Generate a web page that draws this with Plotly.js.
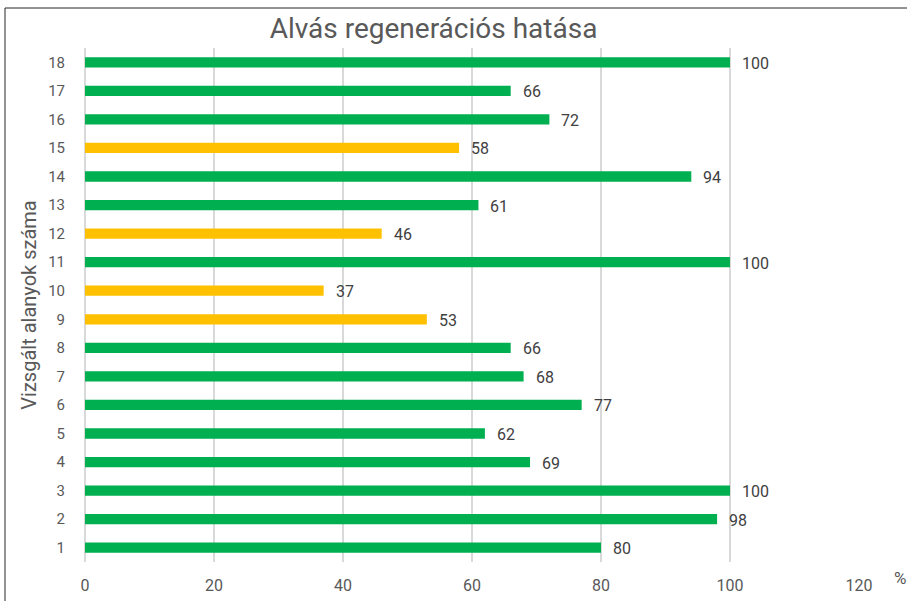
<!DOCTYPE html>
<html>
<head>
<meta charset="utf-8">
<script src="https://cdn.plot.ly/plotly-3.0.1.min.js"></script>
<style>
  html, body { margin: 0; padding: 0; background: #fff; }
  #chart { width: 907px; height: 601px; }
</style>
</head>
<body>
<div id="chart"></div>
<script>
// subjects 1..18 and their regeneration percentage
const subjects = ["1", "2", "3", "4", "5", "6", "7", "8", "9", "10", "11", "12", "13", "14", "15", "16", "17", "18"];
const values = [80, 98, 100, 69, 62, 77, 68, 66, 53, 37, 100, 46, 61, 94, 58, 72, 66, 100];
const xTicks = [0, 20, 40, 60, 80, 100, 120];

const GREEN = "#00B050";
const YELLOW = "#FFC000";
const FONT = "Roboto, sans-serif";

// below 60% shown in yellow
const colors = values.map(v => (v < 60 ? YELLOW : GREEN));

const trace = {
  type: "bar",
  orientation: "h",
  y: subjects,
  x: values,
  width: 0.36,
  marker: { color: colors },
  hoverinfo: "x+y",
  cliponaxis: false,
};

// value labels to the right of each bar (y given as category index)
const labels = values.map((v, i) => ({
  x: v,
  y: i,
  xref: "x",
  yref: "y",
  text: String(v),
  showarrow: false,
  xanchor: "left",
  xshift: 10,
  yshift: -1,
  font: { family: FONT, size: 16, color: "#404040" },
}));

const W = 774; // plot width in px
const H = 514; // plot height in px
const L = 85, T = 48;

const layout = {
  width: 907,
  height: 601,
  margin: { l: L, r: 907 - L - W, t: T, b: 601 - T - H },
  paper_bgcolor: "#fff",
  plot_bgcolor: "#fff",
  font: { family: FONT, color: "#595959" },
  showlegend: false,
  title: {
    text: "Alvás regenerációs hatása",
    font: { family: FONT, size: 28, color: "#595959" },
    x: 0.478,
    xanchor: "center",
    y: 0.953,
    yanchor: "middle",
  },
  xaxis: {
    range: [0, 120],
    tickvals: xTicks,
    ticktext: xTicks.map(String),
    showgrid: true,
    gridcolor: "#d9d9d9",
    gridwidth: 1.5,
    zeroline: true,
    zerolinecolor: "#d9d9d9",
    zerolinewidth: 1.5,
    showline: false,
    ticks: "",
    ticklabelstandoff: 12,
    tickfont: { family: FONT, size: 16, color: "#595959" },
    fixedrange: true,
  },
  yaxis: {
    type: "category",
    categoryorder: "array",
    categoryarray: subjects,
    range: [-0.5, 17.5],
    showgrid: false,
    zeroline: false,
    showline: false,
    ticks: "",
    ticklabelstandoff: 19,
    tickfont: { family: FONT, size: 15, color: "#595959" },
    title: {
      text: "Vizsgált alanyok száma",
      font: { family: FONT, size: 20, color: "#595959" },
      standoff: 6,
    },
    fixedrange: true,
  },
  annotations: labels.concat([
    {
      xref: "paper",
      yref: "paper",
      x: (900 - L) / W,
      y: -(578 - T - H) / H,
      text: "%",
      showarrow: false,
      xanchor: "center",
      yanchor: "middle",
      font: { family: FONT, size: 17, color: "#595959" },
    },
  ]),
  shapes: [
    // outer chart border (cropped at right and bottom)
    {
      type: "rect",
      xref: "paper",
      yref: "paper",
      x0: (5 - L) / W,
      x1: (920 - L) / W,
      y0: -(620 - T - H) / H,
      y1: 1 + (T - 8) / H,
      line: { color: "#262626", width: 1 },
      fillcolor: "rgba(0,0,0,0)",
      layer: "below",
    },
  ],
};

Plotly.newPlot("chart", [trace], layout, { displayModeBar: false, responsive: false });
</script>
</body>
</html>
